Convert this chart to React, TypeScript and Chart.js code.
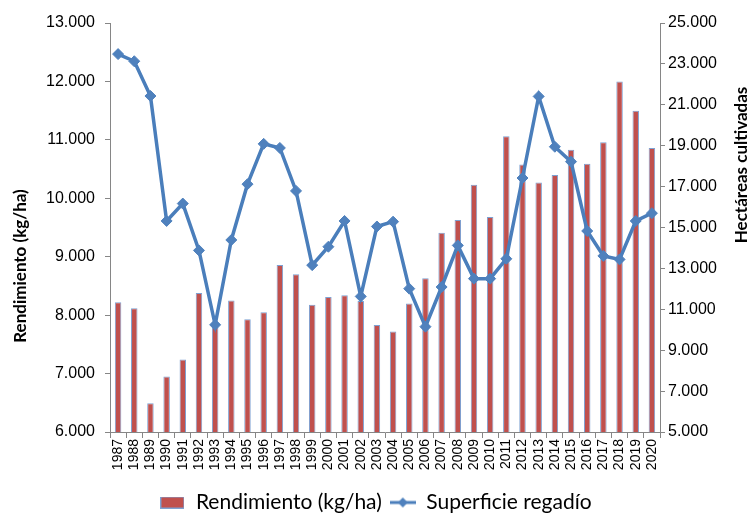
import React, { useEffect, useRef } from "react";
import { Chart, registerables } from "chart.js";

Chart.register(...registerables);

const years = [
  "1987", "1988", "1989", "1990", "1991", "1992", "1993", "1994", "1995", "1996",
  "1997", "1998", "1999", "2000", "2001", "2002", "2003", "2004", "2005", "2006",
  "2007", "2008", "2009", "2010", "2011", "2012", "2013", "2014", "2015", "2016",
  "2017", "2018", "2019", "2020",
];

const rendimiento = [
  8220, 8120, 6490, 6950, 7240, 8380, 7860, 8250, 7930, 8050,
  8860, 8700, 8180, 8310, 8340, 8240, 7830, 7720, 8200, 8630,
  9410, 9630, 10230, 9680, 11060, 10580, 10270, 10400, 10830, 10590,
  10960, 12000, 11500, 10860,
];

const superficie = [
  23480, 23130, 21430, 15320, 16170, 13880, 10240, 14390, 17120, 19090,
  18890, 16790, 13160, 14060, 15320, 11630, 15050, 15285, 12010, 10150,
  12090, 14125, 12500, 12500, 13470, 17420, 21410, 18950, 18220, 14830,
  13610, 13440, 15320, 15700,
];

const leftTicks = { min: 6000, max: 13000, step: 1000 };
const rightTicks = { min: 5000, max: 25000, step: 2000 };

const labelBar = "Rendimiento (kg/ha)";
const labelLine = "Superficie regadío";
const titleLeft = "Rendimiento (kg/ha)";
const titleRight = "Hectáreas cultivadas";

const BAR_COLOR = "#C0504D";
const BAR_BORDER = "#7EA1D2";
const LINE_COLOR = "#4A7EBB";
const MARKER_COLOR = "#4F81BD";
const AXIS_COLOR = "#868686";

const fmt = (v: number) => {
  const th = Math.floor(v / 1000);
  const rest = String(Math.round(v % 1000)).padStart(3, "0");
  return `${th}.${rest}`;
};

function makeBarIcon() {
  const c = document.createElement("canvas");
  c.width = 24;
  c.height = 12;
  const ctx = c.getContext("2d")!;
  ctx.fillStyle = BAR_COLOR;
  ctx.fillRect(0.5, 0.5, 23, 11);
  ctx.strokeStyle = BAR_BORDER;
  ctx.lineWidth = 1;
  ctx.strokeRect(0.5, 0.5, 23, 11);
  return c;
}

function makeLineIcon() {
  const c = document.createElement("canvas");
  c.width = 26;
  c.height = 12;
  const ctx = c.getContext("2d")!;
  ctx.strokeStyle = LINE_COLOR;
  ctx.lineWidth = 3;
  ctx.beginPath();
  ctx.moveTo(0, 6);
  ctx.lineTo(26, 6);
  ctx.stroke();
  ctx.fillStyle = MARKER_COLOR;
  ctx.beginPath();
  ctx.moveTo(13, 1);
  ctx.lineTo(18, 6);
  ctx.lineTo(13, 11);
  ctx.lineTo(8, 6);
  ctx.closePath();
  ctx.fill();
  return c;
}

const axisTitles = {
  id: "axisTitles",
  afterDraw(chart: any) {
    const ctx = chart.ctx;
    ctx.save();
    ctx.fillStyle = "#000";
    ctx.font = "bold 17px Lato, 'Open Sans', sans-serif";
    ctx.textAlign = "center";
    ctx.textBaseline = "middle";
    ctx.save();
    ctx.translate(21, 266);
    ctx.rotate(-Math.PI / 2);
    ctx.fillText(titleLeft, 0, 0);
    ctx.restore();
    ctx.save();
    ctx.translate(742, 165);
    ctx.rotate(-Math.PI / 2);
    ctx.fillText(titleRight, 0, 0);
    ctx.restore();
    ctx.restore();
  },
};

export default function App() {
  const ref = useRef<HTMLCanvasElement | null>(null);

  useEffect(() => {
    if (!ref.current) return;
    const barIcon = makeBarIcon();
    const lineIcon = makeLineIcon();
    const tickFont = { family: "'Liberation Sans', Arial, sans-serif", size: 16 };
    const chart = new Chart(ref.current, {
      type: "bar",
      data: {
        labels: years,
        datasets: [
          {
            type: "line",
            label: labelLine,
            data: superficie,
            yAxisID: "y1",
            borderColor: LINE_COLOR,
            backgroundColor: MARKER_COLOR,
            borderWidth: 3.5,
            pointStyle: "rectRot",
            pointRadius: 5.5,
            pointBackgroundColor: MARKER_COLOR,
            pointBorderColor: MARKER_COLOR,
            pointBorderWidth: 1,
            tension: 0,
            order: 0,
          } as any,
          {
            type: "bar",
            label: labelBar,
            data: rendimiento,
            yAxisID: "y",
            backgroundColor: BAR_COLOR,
            borderColor: BAR_BORDER,
            borderWidth: 1,
            barPercentage: 0.4,
            categoryPercentage: 1,
            order: 1,
          } as any,
        ],
      },
      options: {
        responsive: false,
        animation: false,
        layout: { padding: { top: 23, left: 0, right: 0, bottom: -10 } },
        plugins: {
          tooltip: { enabled: false },
          legend: {
            position: "bottom",
            labels: {
              usePointStyle: true,
              pointStyleWidth: 26,
              padding: 8,
              color: "#000",
              font: { family: "Lato, 'Open Sans', sans-serif", size: 21 },
              generateLabels: () => [
                { text: labelBar, pointStyle: barIcon, fillStyle: BAR_COLOR, strokeStyle: BAR_BORDER, lineWidth: 0, hidden: false, datasetIndex: 1 } as any,
                { text: labelLine, pointStyle: lineIcon, fillStyle: MARKER_COLOR, strokeStyle: LINE_COLOR, lineWidth: 0, hidden: false, datasetIndex: 0 } as any,
              ],
            },
          },
        },
        scales: {
          x: {
            offset: true,
            grid: { display: true, drawOnChartArea: false, offset: true, tickLength: 6, color: AXIS_COLOR },
            border: { color: AXIS_COLOR, width: 1 },
            ticks: {
              autoSkip: false,
              minRotation: 90,
              maxRotation: 90,
              padding: 1,
              color: "#000",
              font: { family: "'Liberation Sans', Arial, sans-serif", size: 14 },
            },
            afterFit: (s: any) => {
              s.height = 52;
            },
          },
          y: {
            position: "left",
            min: leftTicks.min,
            max: leftTicks.max,
            grid: { display: true, drawOnChartArea: false, tickLength: 5, color: AXIS_COLOR },
            border: { color: AXIS_COLOR, width: 1 },
            ticks: {
              stepSize: leftTicks.step,
              padding: 10,
              color: "#000",
              font: tickFont,
              callback: (v: any) => fmt(Number(v)),
            },
            afterFit: (s: any) => {
              s.width = 110;
            },
          },
          y1: {
            position: "right",
            min: rightTicks.min,
            max: rightTicks.max,
            grid: { display: true, drawOnChartArea: false, tickLength: 5, color: AXIS_COLOR },
            border: { color: AXIS_COLOR, width: 1 },
            ticks: {
              stepSize: rightTicks.step,
              padding: 3,
              color: "#000",
              font: tickFont,
              callback: (v: any) => fmt(Number(v)),
            },
            afterFit: (s: any) => {
              s.width = 91;
            },
          },
        },
      },
      plugins: [axisTitles],
    });
    return () => chart.destroy();
  }, []);

  return (
    <div style={{ position: "fixed", left: 0, top: 0, width: 751, height: 513, background: "#fff" }}>
      <canvas ref={ref} width={751} height={513} style={{ display: "block" }} />
    </div>
  );
}
